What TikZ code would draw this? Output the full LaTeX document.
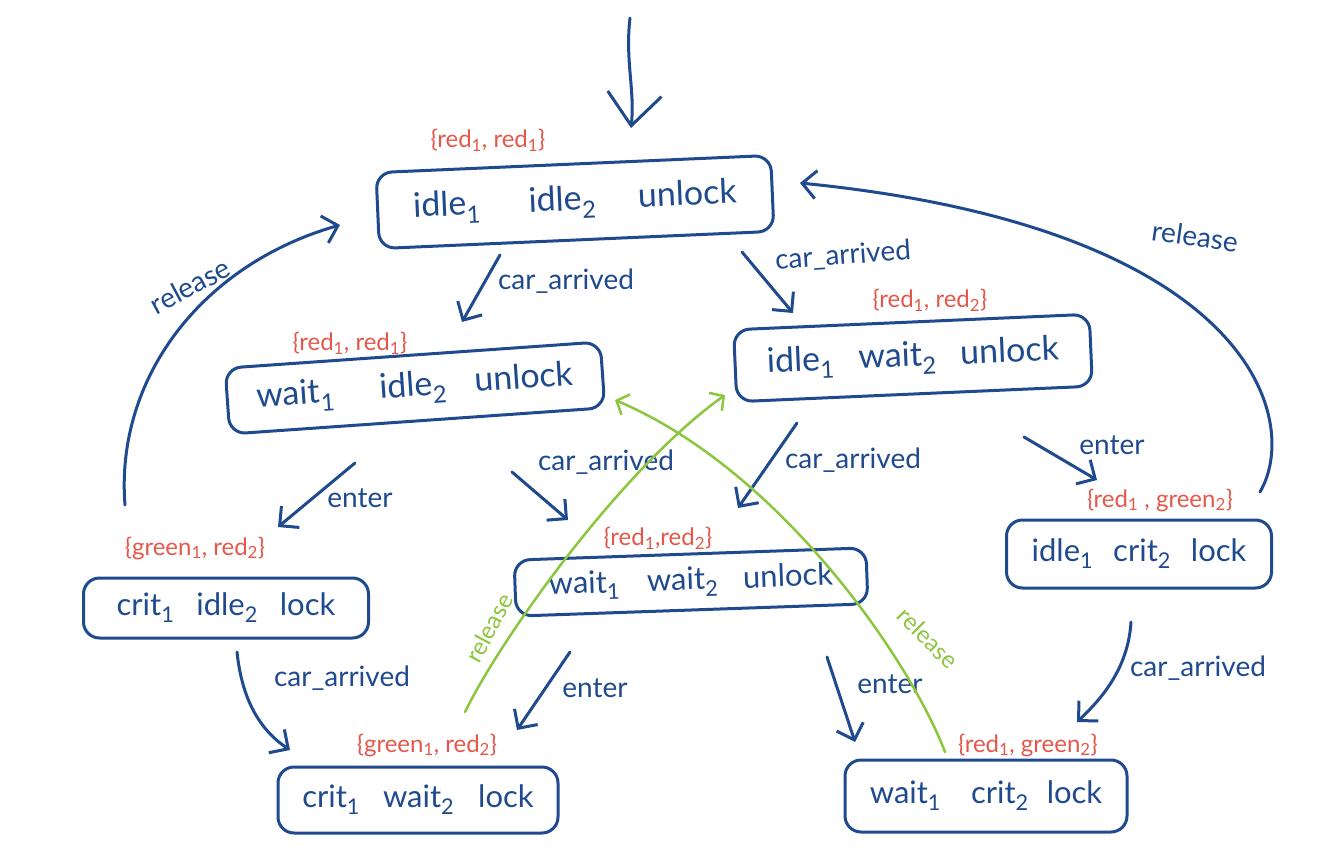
\documentclass[tikz,border=0pt]{standalone}
\usepackage{fontspec}
\setmainfont{Lato}
\usetikzlibrary{arrows.meta}
\definecolor{ink}{HTML}{1F4A8E}
\definecolor{lab}{HTML}{E4574A}
\definecolor{grn}{HTML}{8CC63E}
\newcommand\dn[1]{\textsubscript{#1}}
\tikzset{
  state/.style={draw=ink, line width=3pt, rounded corners=16pt, text=ink,
    font=\fontsize{34}{36}\selectfont, inner sep=0pt, align=center},
  small/.style={font=\fontsize{31}{33}\selectfont},
  prop/.style={text=lab, font=\fontsize{24}{26}\selectfont, inner sep=0pt},
  tr/.style={draw=ink, line width=3pt, line cap=round,
    -{Straight Barb[length=14pt,width=28pt]}},
  grel/.style={draw=grn, line width=2.5pt, line cap=round,
    -{Straight Barb[length=10pt,width=22pt]}},
  elab/.style={text=ink, font=\fontsize{28}{30}\selectfont, inner sep=0pt},
  glab/.style={text=grn, font=\fontsize{24}{26}\selectfont, inner sep=0pt},
}
\begin{document}
\begin{tikzpicture}[x=1pt,y=-1pt]
\useasboundingbox (0,0) rectangle (1342,856);

% states
\node[state, minimum width=395pt, minimum height=76pt, rotate=2.5] (s0) at (575,202)
  {idle\dn{1}\hspace{48pt}idle\dn{2}\hspace{42pt}unlock};
\node[state, minimum width=376pt, minimum height=66pt, rotate=4] (s1) at (415,388)
  {wait\dn{1}\hspace{45pt}idle\dn{2}\hspace{28pt}unlock};
\node[state, minimum width=356pt, minimum height=72pt, rotate=2.5] (s2) at (913,358)
  {idle\dn{1}\hspace{24pt}wait\dn{2}\hspace{24pt}unlock};
\node[state, small, minimum width=285pt, minimum height=60pt] (s3) at (226,608)
  {crit\dn{1}\hspace{22pt}idle\dn{2}\hspace{22pt}lock};
\node[state, small, minimum width=352pt, minimum height=56pt, rotate=2] (s4) at (691,582)
  {wait\dn{1}\hspace{27pt}wait\dn{2}\hspace{25pt}unlock};
\node[state, small, minimum width=265pt, minimum height=68pt] (s5) at (1139,554)
  {idle\dn{1}\hspace{20pt}crit\dn{2}\hspace{20pt}lock};
\node[state, small, minimum width=280pt, minimum height=66pt] (s6) at (418,800)
  {crit\dn{1}\hspace{23pt}wait\dn{2}\hspace{24pt}lock};
\node[state, small, minimum width=282pt, minimum height=72pt] (s7) at (986,796)
  {wait\dn{1}\hspace{30pt}crit\dn{2}\hspace{18pt}lock};

% labels of propositions
\node[prop] (p0) at (488,140) {\{red\dn{1}, red\dn{1}\}};
\node[prop] (p1) at (350,343) {\{red\dn{1}, red\dn{1}\}};
\node[prop] (p2) at (930,300) {\{red\dn{1}, red\dn{2}\}};
\node[prop] (p3) at (195,548) {\{green\dn{1}, red\dn{2}\}};
\node[prop] (p4) at (658,538) {\{red\dn{1},red\dn{2}\}};
\node[prop] (p5) at (1160,500) {\{red\dn{1} , green\dn{2}\}};
\node[prop] (p6) at (427,745) {\{green\dn{1}, red\dn{2}\}};
\node[prop] (p7) at (1028,745) {\{red\dn{1}, green\dn{2}\}};

% initial arrow
\coordinate (init) at (630,18);
\draw[draw=ink, line width=3pt, line cap=round, -{Straight Barb[length=32pt,width=54pt]}]
  (init) .. controls (625,60) and (635,90) .. ([shift={(56,-74)}]s0.center);

% transitions
\draw[tr] ([shift={(-75,53)}]s0.center) -- ([shift={(47,-66)}]s1.center);
\node[elab] (l01) at (566,281) {car\_arrived};
\draw[tr] ([shift={(167,50)}]s0.center) -- ([shift={(-120,-45)}]s2.center);
\node[elab, rotate=4] (l02) at (843,256) {car\_arrived};
\draw[tr] ([shift={(-60,75)}]s1.center) -- ([shift={(52,-81)}]s3.center);
\node[elab] (l13) at (360,498) {enter};
\draw[tr] ([shift={(97,84)}]s1.center) -- ([shift={(-123,-62)}]s4.center);
\node[elab] (l14) at (606,462) {car\_arrived};
\draw[tr] ([shift={(-116,65)}]s2.center) -- ([shift={(47,-74)}]s4.center);
\node[elab] (l24) at (853,460) {car\_arrived};
\draw[tr] ([shift={(111,79)}]s2.center) -- ([shift={(-42,-74)}]s5.center);
\node[elab] (l25) at (1112,445) {enter};
\draw[tr] ([shift={(11,44)}]s3.center) .. controls (242,700) and (260,730) .. ([shift={(-128,-50)}]s6.center);
\node[elab] (l36) at (342,678) {car\_arrived};
\draw[tr] ([shift={(-121,70)}]s4.center) -- ([shift={(99,-70)}]s6.center);
\node[elab] (l46) at (595,688) {enter};
\draw[tr] ([shift={(136,75)}]s4.center) -- ([shift={(-131,-54)}]s7.center);
\node[elab] (l47) at (890,684) {enter};
\draw[tr] ([shift={(-8,68)}]s5.center) .. controls (1128,670) and (1100,700) .. ([shift={(91,-74)}]s7.center);
\node[elab] (l57) at (1198,668) {car\_arrived};

% release back to the initial state
\draw[tr] ([shift={(-101,-103)}]s3.center) .. controls (115,380) and (200,265) .. ([shift={(-235,23)}]s0.center);
\node[elab, rotate=28] (l30) at (190,286) {release};
\draw[tr] ([shift={(121,-62)}]s5.center) .. controls (1302,420) and (1252,228) .. ([shift={(225,-19)}]s0.center);
\node[elab, rotate=-8] (l50) at (1195,236) {release};

% green release edges
\draw[grel] ([shift={(47,-88)}]s6.center) .. controls (500,640) and (620,470) .. ([shift={(-188,37)}]s2.center);
\node[glab, rotate=62] (g62) at (489,628) {release};
\draw[grel] ([shift={(-41,-44)}]s7.center) .. controls (910,660) and (780,470) .. ([shift={(200,12)}]s1.center);
\node[glab, rotate=-45] (g71) at (928,638) {release};
\end{tikzpicture}
\end{document}
